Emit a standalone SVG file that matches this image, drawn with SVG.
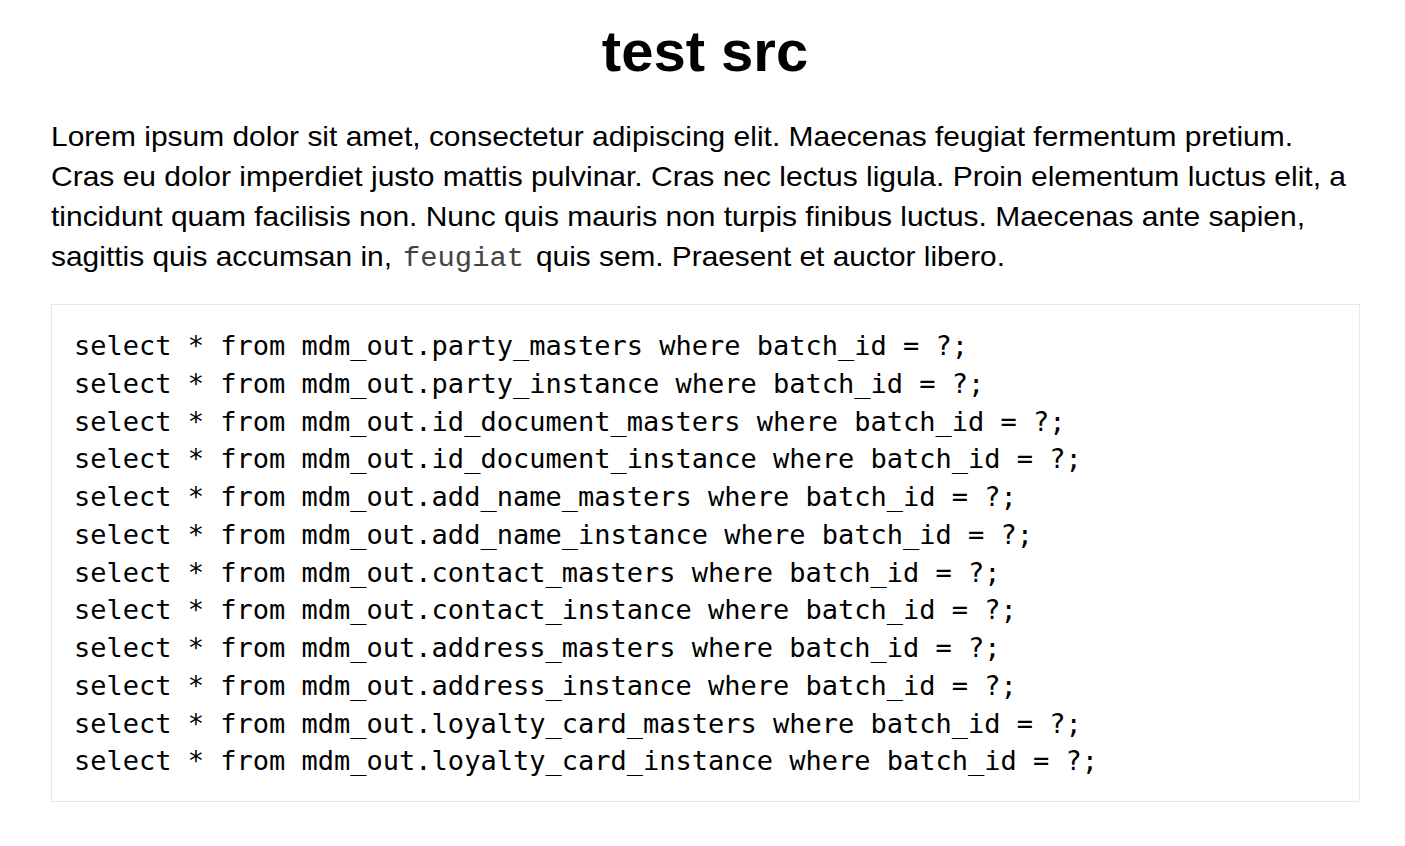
<svg xmlns="http://www.w3.org/2000/svg" width="1405" height="846" viewBox="0 0 1405 846">
<style>
.t{font-family:"Liberation Sans",Arial,sans-serif;font-size:28px;fill:#000}
.c{font-family:"DejaVu Sans Mono",monospace;font-size:27px;fill:#000}
.m{font-family:"Liberation Mono",monospace;font-size:27px;fill:#444}
</style>
<rect width="1405" height="846" fill="#fff"/>
<text x="705" y="71" text-anchor="middle" font-family="Liberation Sans,Arial,sans-serif" font-weight="bold" font-size="58">test src</text>
<text class="t" x="51" y="146" textLength="1242" lengthAdjust="spacingAndGlyphs">Lorem ipsum dolor sit amet, consectetur adipiscing elit. Maecenas feugiat fermentum pretium.</text>
<text class="t" x="51" y="186" textLength="1295" lengthAdjust="spacingAndGlyphs">Cras eu dolor imperdiet justo mattis pulvinar. Cras nec lectus ligula. Proin elementum luctus elit, a</text>
<text class="t" x="51" y="226" textLength="1254" lengthAdjust="spacingAndGlyphs">tincidunt quam facilisis non. Nunc quis mauris non turpis finibus luctus. Maecenas ante sapien,</text>
<text class="t" x="51" y="266" textLength="341" lengthAdjust="spacingAndGlyphs">sagittis quis accumsan in,</text>
<text class="m" x="403" y="266" textLength="121" lengthAdjust="spacingAndGlyphs">feugiat</text>
<text class="t" x="536" y="266" textLength="469" lengthAdjust="spacingAndGlyphs">quis sem. Praesent et auctor libero.</text>
<rect x="51.5" y="304.5" width="1308" height="497" fill="#fff" stroke="#e8e8e8"/>
<g class="c">
<text x="74" y="355">select * from mdm_out.party_masters where batch_id = ?;</text>
<text x="74" y="393">select * from mdm_out.party_instance where batch_id = ?;</text>
<text x="74" y="431">select * from mdm_out.id_document_masters where batch_id = ?;</text>
<text x="74" y="468">select * from mdm_out.id_document_instance where batch_id = ?;</text>
<text x="74" y="506">select * from mdm_out.add_name_masters where batch_id = ?;</text>
<text x="74" y="544">select * from mdm_out.add_name_instance where batch_id = ?;</text>
<text x="74" y="582">select * from mdm_out.contact_masters where batch_id = ?;</text>
<text x="74" y="619">select * from mdm_out.contact_instance where batch_id = ?;</text>
<text x="74" y="657">select * from mdm_out.address_masters where batch_id = ?;</text>
<text x="74" y="695">select * from mdm_out.address_instance where batch_id = ?;</text>
<text x="74" y="733">select * from mdm_out.loyalty_card_masters where batch_id = ?;</text>
<text x="74" y="770">select * from mdm_out.loyalty_card_instance where batch_id = ?;</text>
</g>
</svg>
